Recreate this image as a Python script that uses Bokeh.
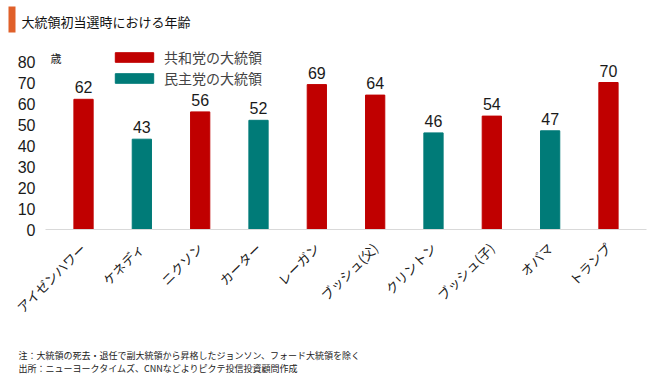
import math
from bokeh.plotting import figure
from bokeh.layouts import column, row
from bokeh.models import (ColumnDataSource, Label, Legend, LegendItem, BoxAnnotation,
                          FixedTicker, Range1d)
from bokeh.core.properties import value
from bokeh.embed import file_html
from bokeh.resources import INLINE

presidents = ["アイゼンハワー", "ケネディ", "ニクソン", "カーター", "レーガン",
              "ブッシュ(父)", "クリントン", "ブッシュ(子)", "オバマ", "トランプ"]
ages = [62, 43, 56, 52, 69, 64, 46, 54, 47, 70]
parties = ["共和党", "民主党", "共和党", "民主党", "共和党",
           "共和党", "民主党", "共和党", "民主党", "共和党"]
y_ticks = [0, 10, 20, 30, 40, 50, 60, 70, 80]

title_text = "大統領初当選時における年齢"
unit_text = "歳"
note_lines = ["注：大統領の死去・退任で副大統領から昇格したジョンソン、フォード大統領を除く",
              "出所：ニューヨークタイムズ、CNNなどよりピクテ投信投資顧問作成"]

RED = "#C00000"
TEAL = "#007B78"
colors = [RED if p == "共和党" else TEAL for p in parties]

FONT = "Noto Sans CJK JP"
NUM_FONT = "Liberation Sans"
W = 650
TOP_H, MAIN_H, NOTE_H = 40, 300, 35


def blank(h):
    f = figure(width=W, height=h, x_range=Range1d(0, W), y_range=Range1d(h, 0),
               x_axis_type=None, y_axis_type=None, output_backend="svg",
               toolbar_location=None, min_border=0)
    f.outline_line_color = None
    f.grid.visible = False
    return f


# ---- title strip
top = blank(TOP_H)
top.add_layout(BoxAnnotation(left=8, right=15, top=6, bottom=32,
                             fill_color="#E0602A", fill_alpha=1, line_color=None))
top.add_layout(Label(x=21, y=30, text=title_text, text_font=FONT,
                     text_font_size="13px", text_color="#111111",
                     text_baseline="bottom"))

# ---- main chart
FX = 45            # frame left in canvas px
FB = 229 - TOP_H   # frame bottom within main figure
src = ColumnDataSource(dict(x=presidents, top=ages, color=colors,
                            lbl=[str(a) for a in ages]))

p = figure(width=W, height=MAIN_H, x_range=presidents, y_range=(0, 90),
           output_backend="svg", toolbar_location=None,
           min_border_left=FX, min_border_right=4, min_border_top=0,
           min_border_bottom=MAIN_H - FB)
p.outline_line_color = None
p.xgrid.grid_line_color = None
p.ygrid.grid_line_color = None
p.x_range.range_padding = 0.152
p.x_range.range_padding_units = "absolute"

p.vbar(x="x", top="top", width=0.33, color="color", source=src)
p.text(x="x", y="top", text="lbl", source=src, text_align="center",
       text_baseline="bottom", y_offset=-6, text_font=value(NUM_FONT),
       text_font_size="16px", text_color="#1A1A1A")

p.yaxis.ticker = FixedTicker(ticks=y_ticks)
p.yaxis.axis_line_color = None
p.yaxis.major_tick_line_color = None
p.yaxis.minor_tick_line_color = None
p.yaxis.major_label_text_font = NUM_FONT
p.yaxis.major_label_text_font_size = "16px"
p.yaxis.major_label_text_color = "#1A1A1A"
p.yaxis.major_label_standoff = 4

p.xaxis.axis_line_color = "#D9D9D9"
p.xaxis.major_tick_line_color = None
p.xaxis.minor_tick_line_color = None
p.xaxis.major_label_orientation = math.pi / 4
p.xaxis.major_label_text_font = FONT
p.xaxis.major_label_text_font_size = "13px"
p.xaxis.major_label_text_color = "#222222"
p.xaxis.major_label_standoff = 10

r_rep = p.vbar(x=[presidents[0]], top=[0], width=0, color=RED)
r_dem = p.vbar(x=[presidents[0]], top=[0], width=0, color=TEAL)
legend = Legend(items=[LegendItem(label="共和党の大統領", renderers=[r_rep]),
                       LegendItem(label="民主党の大統領", renderers=[r_dem])],
                location=(110 - FX, 229 - 88), orientation="vertical",
                glyph_width=48, glyph_height=12, spacing=1, padding=0,
                margin=0, label_text_font=FONT, label_text_font_size="14px",
                label_standoff=6, background_fill_alpha=0, border_line_color=None)
p.add_layout(legend, "center")

p.add_layout(Label(x=50 - FX, y=229 - 65, x_units="screen", y_units="screen",
                   text=unit_text, text_font=FONT, text_font_size="11px",
                   text_color="#222222", text_baseline="bottom"))

# ---- notes strip
notes = blank(NOTE_H)
for i, line in enumerate(note_lines):
    notes.add_layout(Label(x=18, y=21 + 13 * i, text=line, text_font=FONT,
                           text_font_size="9px", text_color="#222222",
                           text_baseline="bottom"))

layout = column(row(top, spacing=0), row(p, spacing=0), row(notes, spacing=0), spacing=0)
open("out.html", "w").write(file_html(layout, INLINE))
